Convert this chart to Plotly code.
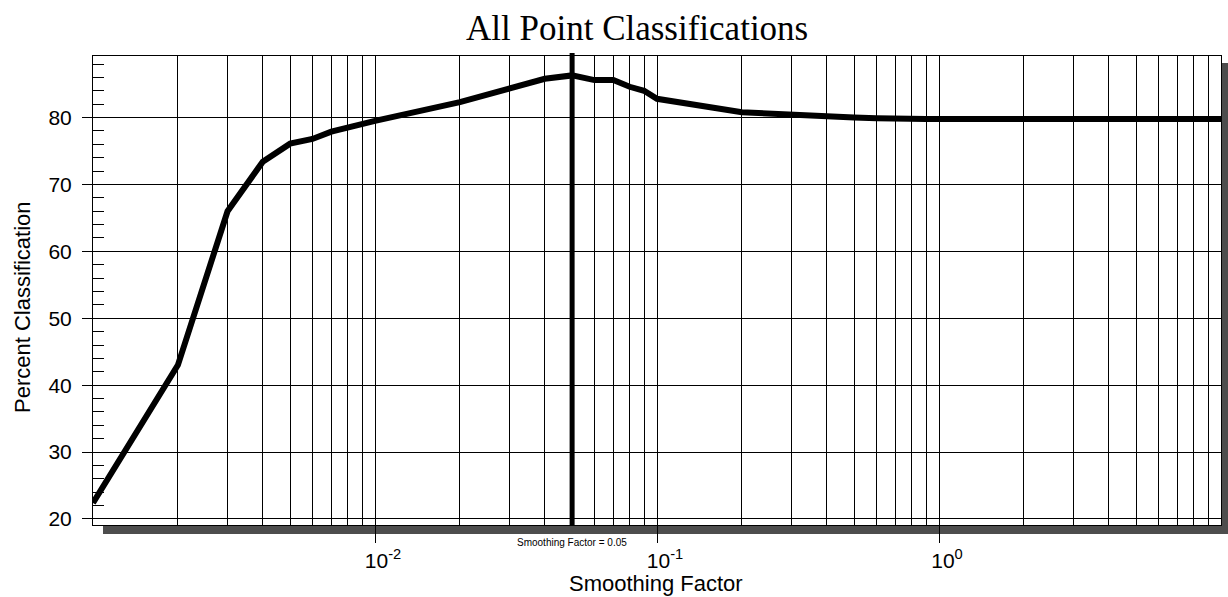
import math
import plotly.graph_objects as go

# ---- data ----
smoothing = [0.001, 0.002, 0.003, 0.004, 0.005, 0.006, 0.007, 0.008, 0.009, 0.01,
             0.02, 0.03, 0.04, 0.05, 0.06, 0.07, 0.08, 0.09, 0.1,
             0.2, 0.3, 0.4, 0.5, 0.6, 0.7, 0.8, 0.9, 1.0, 2.0, 5.0, 10.0]
percent = [22.4, 43.0, 66.0, 73.4, 76.1, 76.8, 77.9, 78.5, 79.1, 79.5,
           82.3, 84.3, 85.8, 86.3, 85.6, 85.6, 84.6, 84.0, 82.8,
           80.8, 80.35, 80.1, 80.0, 79.9, 79.8, 79.8, 79.8, 79.8, 79.8, 79.8, 79.8]
chosen_factor = 0.05
x_tickvals = [0.01, 0.1, 1.0]
x_ticktext = ["10<sup>-2</sup>", "10<sup>-1</sup>", "10<sup>0</sup>"]
y_tickvals = [20, 30, 40, 50, 60, 70, 80]

SANS = "Arial, Liberation Sans, sans-serif"
SERIF = "Times New Roman, Liberation Serif, serif"

W, H = 1228, 597
PW, PH = 1128, 469  # plot area size in pixels

fig = go.Figure()
fig.add_trace(go.Scatter(x=smoothing, y=percent, mode="lines",
                         line=dict(color="black", width=6), showlegend=False))

fig.update_layout(
    width=W, height=H,
    margin=dict(l=93, r=7, t=56, b=72),
    paper_bgcolor="white", plot_bgcolor="white",
    font=dict(family=SANS, color="black"),
    showlegend=False,
)

fig.update_xaxes(
    type="log", range=[-3, 1],
    tickmode="array", tickvals=x_tickvals, ticktext=x_ticktext,
    tickfont=dict(family=SANS, size=21, color="black"),
    ticklabelshift=8,
    ticks="outside", ticklen=17, tickcolor="black", tickwidth=1,
    showgrid=True, gridcolor="black", gridwidth=1,
    minor=dict(dtick="D1", showgrid=True, gridcolor="black", gridwidth=1, ticks=""),
    showline=True, linecolor="black", linewidth=1, mirror=True,
    zeroline=False,
)
fig.update_yaxes(
    range=[19.1, 89.2],
    tickmode="array", tickvals=y_tickvals,
    tickfont=dict(family=SANS, size=21, color="black"),
    ticks="outside", ticklen=10, tickcolor="black", tickwidth=1,
    ticklabelstandoff=6,
    showgrid=True, gridcolor="black", gridwidth=1,
    minor=dict(dtick=2, tick0=20, ticks="inside", ticklen=11, tickcolor="black",
               tickwidth=1, showgrid=False),
    showline=True, linecolor="black", linewidth=1, mirror=True,
    zeroline=False,
)

# drop shadow of the plot frame
fig.add_shape(type="rect", xref="paper", yref="paper", layer="below",
              x0=10 / PW, x1=1 + 7 / PW, y0=-9 / PH, y1=-1 / PH,
              fillcolor="#4d4d4d", line=dict(width=0))
fig.add_shape(type="rect", xref="paper", yref="paper", layer="below",
              x0=1, x1=1 + 7 / PW, y0=-9 / PH, y1=1 - 7 / PH,
              fillcolor="#4d4d4d", line=dict(width=0))

# vertical line at the chosen smoothing factor
fig.add_shape(type="line", xref="x", yref="paper",
              x0=chosen_factor, x1=chosen_factor, y0=0, y1=1 + 3 / PH,
              line=dict(color="black", width=5))

fig.add_annotation(text=f"Smoothing Factor = {chosen_factor}", xref="x", yref="paper",
                   x=math.log10(chosen_factor), y=-17 / PH, showarrow=False,
                   xanchor="center", yanchor="middle",
                   font=dict(family=SANS, size=10, color="black"))

fig.add_annotation(text="All Point Classifications", xref="paper", yref="paper",
                   x=(636.5 - 93) / PW, y=(525 - 28) / PH, showarrow=False,
                   xanchor="center", yanchor="middle",
                   font=dict(family=SERIF, size=35, color="black"))

fig.add_annotation(text="Smoothing Factor", xref="paper", yref="paper",
                   x=(656 - 93) / PW, y=(525 - 583) / PH, showarrow=False,
                   xanchor="center", yanchor="middle",
                   font=dict(family=SANS, size=22, color="black"))

fig.add_annotation(text="Percent Classification", xref="paper", yref="paper",
                   x=(22 - 93) / PW, y=(525 - 307) / PH, showarrow=False,
                   textangle=-90, xanchor="center", yanchor="middle",
                   font=dict(family=SANS, size=22, color="black"))

fig.write_html(
    "out.html",
    config={"displayModeBar": False},
    post_script="document.body.style.margin='0';document.body.style.overflow='hidden';",
)
